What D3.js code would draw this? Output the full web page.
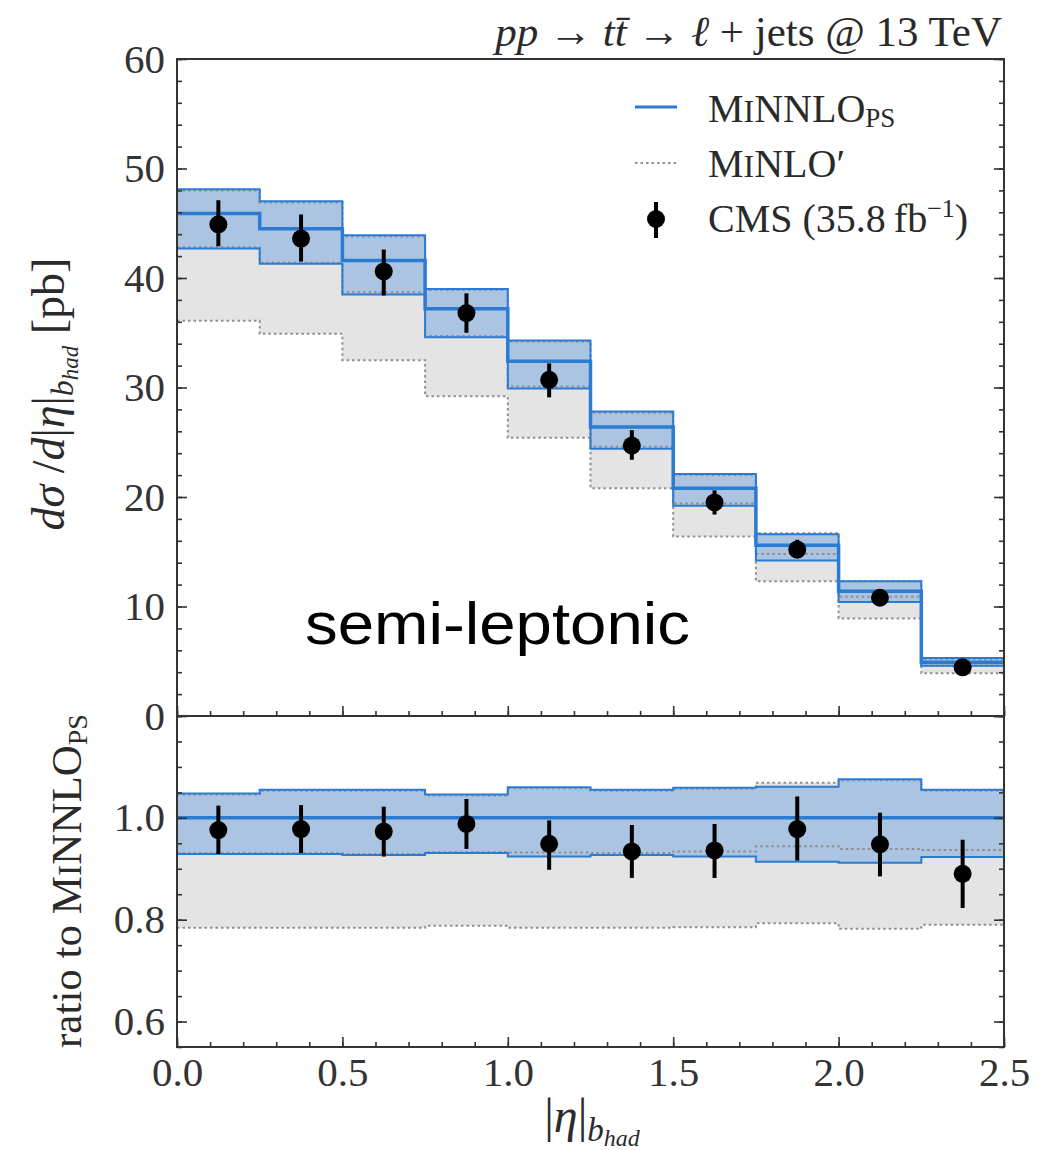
<!DOCTYPE html>
<html>
<head>
<meta charset="utf-8">
<script src="https://cdn.jsdelivr.net/npm/d3@7"></script>
<style>
  html, body { margin: 0; padding: 0; background: #fff; }
  svg { display: block; }
  text { font-family: "Liberation Serif", "DejaVu Serif", serif; fill: #2a2a2a; }
</style>
</head>
<body>
<svg id="chart" width="1048" height="1150"></svg>
<script>
// |eta| of the hadronic b-jet: bin edges
const binEdges = [0, 0.25, 0.5, 0.75, 1.0, 1.25, 1.5, 1.75, 2.0, 2.25, 2.5];

// MiNNLO_PS prediction [pb] with scale band
const minnloCentral = [45.9, 44.5, 41.6, 37.2, 32.4, 26.4, 20.8, 15.6, 11.4, 4.9];
const minnloUpper   = [48.1, 47.0, 43.9, 39.0, 34.3, 27.8, 22.1, 16.6, 12.3, 5.3];
const minnloLower   = [42.7, 41.3, 38.5, 34.6, 29.9, 24.4, 19.2, 14.2, 10.4, 4.6];

// MiNLO' prediction [pb] with scale band
const minloCentral = [42.8, 41.4, 38.7, 34.7, 30.1, 24.6, 19.4, 14.8, 10.9, 4.6];
const minloUpper   = [48.0, 46.9, 43.8, 38.9, 34.2, 27.7, 22.0, 16.7, 12.3, 5.2];
const minloLower   = [36.1, 34.9, 32.5, 29.2, 25.4, 20.8, 16.4, 12.3, 8.9, 3.9];

// CMS data [pb] with error bars
const cmsValue = [44.9, 43.6, 40.6, 36.8, 30.7, 24.7, 19.5, 15.2, 10.8, 4.45];
const cmsHigh  = [47.1, 45.8, 42.6, 38.6, 32.2, 26.1, 20.6, 16.1, 11.4, 4.8];
const cmsLow   = [42.9, 41.5, 38.4, 35.0, 29.1, 23.4, 18.4, 14.4, 10.3, 4.1];

// Ratios to MiNNLO_PS
const ratioMinnloUpper = [1.048, 1.055, 1.055, 1.046, 1.060, 1.055, 1.059, 1.061, 1.076, 1.055];
const ratioMinnloLower = [0.929, 0.929, 0.927, 0.931, 0.924, 0.927, 0.924, 0.914, 0.912, 0.923];
const ratioMinloUpper  = [1.046, 1.053, 1.053, 1.044, 1.058, 1.053, 1.057, 1.069, 1.074, 1.053];
const ratioMinloCentral= [0.931, 0.931, 0.929, 0.933, 0.932, 0.931, 0.934, 0.944, 0.939, 0.937];
const ratioMinloLower  = [0.784, 0.784, 0.784, 0.788, 0.784, 0.784, 0.785, 0.793, 0.782, 0.790];
const ratioCmsValue = [0.976, 0.978, 0.973, 0.988, 0.949, 0.934, 0.936, 0.978, 0.948, 0.890];
const ratioCmsHigh  = [1.024, 1.025, 1.022, 1.037, 0.995, 0.986, 0.988, 1.042, 1.010, 0.957];
const ratioCmsLow   = [0.929, 0.931, 0.924, 0.939, 0.898, 0.882, 0.882, 0.916, 0.885, 0.823];

// Tick values
const xMajorTicks = [0, 0.5, 1.0, 1.5, 2.0, 2.5];
const yTopMajorTicks = [0, 10, 20, 30, 40, 50, 60];
const yBotMajorTicks = [0.6, 0.8, 1.0];

const blueLine = "#2b7bd2";
const blueFill = "#aac4e1";
const grayFill = "#e4e4e4";
const grayDot  = "#8f8f8f";
const frameCol = "#333";

const svg = d3.select("#chart");

const x = d3.scaleLinear().domain([0, 2.5]).range([177, 1004]);
const yTop = d3.scaleLinear().domain([0, 60]).range([716, 59]);
const yBot = d3.scaleLinear().domain([0.55, 1.2]).range([1047, 716]);

function stepData(vals) {
  return binEdges.map((e, i) => ({ x: e, v: vals[Math.min(i, vals.length - 1)] }));
}
function bandData(lo, hi) {
  return binEdges.map((e, i) => ({ x: e, lo: lo[Math.min(i, lo.length - 1)], hi: hi[Math.min(i, hi.length - 1)] }));
}
const binCenters = binEdges.slice(0, -1).map((e, i) => (e + binEdges[i + 1]) / 2);

function drawPanel(g, y, d) {
  const area = d3.area().curve(d3.curveStepAfter)
    .x(p => x(p.x)).y0(p => y(p.lo)).y1(p => y(p.hi));
  const line = d3.line().curve(d3.curveStepAfter)
    .x(p => x(p.x)).y(p => y(p.v));

  // MiNLO' band
  g.append("path").datum(bandData(d.minloLo, d.minloHi))
    .attr("d", area).attr("fill", grayFill);
  // MiNNLO_PS band
  g.append("path").datum(bandData(d.minnloLo, d.minnloHi))
    .attr("d", area).attr("fill", blueFill);

  // MiNLO' dotted lines
  [d.minloLo, d.minloC, d.minloHi].forEach(vals => {
    g.append("path").datum(stepData(vals)).attr("d", line)
      .attr("fill", "none").attr("stroke", grayDot)
      .attr("stroke-width", 2).attr("stroke-dasharray", "2.5,3");
  });
  // MiNNLO_PS band edges and central value
  [d.minnloLo, d.minnloHi].forEach(vals => {
    g.append("path").datum(stepData(vals)).attr("d", line)
      .attr("fill", "none").attr("stroke", blueLine).attr("stroke-width", 2);
  });
  g.append("path").datum(stepData(d.minnloC)).attr("d", line)
    .attr("fill", "none").attr("stroke", blueLine).attr("stroke-width", 3.5);

  // CMS points
  const pts = g.append("g");
  pts.selectAll("line").data(binCenters).join("line")
    .attr("x1", c => x(c)).attr("x2", c => x(c))
    .attr("y1", (c, i) => y(d.cmsLo[i])).attr("y2", (c, i) => y(d.cmsHi[i]))
    .attr("stroke", "#000").attr("stroke-width", 4);
  pts.selectAll("circle").data(binCenters).join("circle")
    .attr("cx", c => x(c)).attr("cy", (c, i) => y(d.cmsV[i]))
    .attr("r", 9).attr("fill", "#000");
}

// clip paths for both panels
const defs = svg.append("defs");
defs.append("clipPath").attr("id", "clipTop").append("rect")
  .attr("x", 177).attr("y", 59).attr("width", 827).attr("height", 657);
defs.append("clipPath").attr("id", "clipBot").append("rect")
  .attr("x", 177).attr("y", 716).attr("width", 827).attr("height", 331);

drawPanel(svg.append("g").attr("clip-path", "url(#clipTop)"), yTop, {
  minloLo: minloLower, minloC: minloCentral, minloHi: minloUpper,
  minnloLo: minnloLower, minnloC: minnloCentral, minnloHi: minnloUpper,
  cmsV: cmsValue, cmsLo: cmsLow, cmsHi: cmsHigh
});
drawPanel(svg.append("g").attr("clip-path", "url(#clipBot)"), yBot, {
  minloLo: ratioMinloLower, minloC: ratioMinloCentral, minloHi: ratioMinloUpper,
  minnloLo: ratioMinnloLower, minnloC: binEdges.slice(0, -1).map(() => 1.0), minnloHi: ratioMinnloUpper,
  cmsV: ratioCmsValue, cmsLo: ratioCmsLow, cmsHi: ratioCmsHigh
});

// ---- axes ----
function styleAxis(g, fontSize) {
  g.select(".domain").remove();
  g.selectAll(".tick line").attr("stroke", frameCol).attr("stroke-width", 1.6);
  g.selectAll(".tick text")
    .attr("font-family", "'Liberation Serif', serif")
    .attr("font-size", fontSize).style("fill", "#333");
}
const minorX = d3.range(0, 2.5001, 0.1).map(v => +v.toFixed(2));
const fmt1 = d3.format(".1f");

// top panel: x ticks on bottom edge (no labels)
svg.append("g").attr("transform", "translate(0,716)")
  .call(d3.axisTop(x).tickValues(minorX).tickSize(5).tickFormat(""))
  .call(g => styleAxis(g, 0));
svg.append("g").attr("transform", "translate(0,716)")
  .call(d3.axisTop(x).tickValues(xMajorTicks).tickSize(10).tickFormat(""))
  .call(g => styleAxis(g, 0));

// top panel y ticks (left labelled, right bare)
const minorYTop = d3.range(0, 60.001, 2);
svg.append("g").attr("transform", "translate(177,0)")
  .call(d3.axisLeft(yTop).tickValues(minorYTop).tickSize(-5).tickFormat(""))
  .call(g => styleAxis(g, 0));
svg.append("g").attr("transform", "translate(177,0)")
  .call(d3.axisLeft(yTop).tickValues(yTopMajorTicks).tickSize(-10).tickPadding(12).tickFormat(d3.format("d")))
  .call(g => styleAxis(g, 41));
svg.append("g").attr("transform", "translate(1004,0)")
  .call(d3.axisRight(yTop).tickValues(minorYTop).tickSize(-5).tickFormat(""))
  .call(g => styleAxis(g, 0));
svg.append("g").attr("transform", "translate(1004,0)")
  .call(d3.axisRight(yTop).tickValues(yTopMajorTicks).tickSize(-10).tickFormat(""))
  .call(g => styleAxis(g, 0));

// bottom panel x ticks (labelled)
svg.append("g").attr("transform", "translate(0,1047)")
  .call(d3.axisBottom(x).tickValues(minorX).tickSize(-5).tickFormat(""))
  .call(g => styleAxis(g, 0));
svg.append("g").attr("transform", "translate(0,1047)")
  .call(d3.axisBottom(x).tickValues(xMajorTicks).tickSize(-10).tickPadding(10).tickFormat(fmt1))
  .call(g => styleAxis(g, 41));

// bottom panel y ticks
const minorYBot = d3.range(0.55, 1.2001, 0.05).map(v => +v.toFixed(2));
const majorYBotAll = [0.6, 0.8, 1.0, 1.2];
svg.append("g").attr("transform", "translate(177,0)")
  .call(d3.axisLeft(yBot).tickValues(minorYBot).tickSize(-5).tickFormat(""))
  .call(g => styleAxis(g, 0));
svg.append("g").attr("transform", "translate(177,0)")
  .call(d3.axisLeft(yBot).tickValues(yBotMajorTicks).tickSize(-10).tickPadding(12).tickFormat(fmt1))
  .call(g => styleAxis(g, 41));
svg.append("g").attr("transform", "translate(1004,0)")
  .call(d3.axisRight(yBot).tickValues(minorYBot).tickSize(-5).tickFormat(""))
  .call(g => styleAxis(g, 0));
svg.append("g").attr("transform", "translate(1004,0)")
  .call(d3.axisRight(yBot).tickValues(majorYBotAll).tickSize(-10).tickFormat(""))
  .call(g => styleAxis(g, 0));

// frames
svg.append("rect").attr("x", 177).attr("y", 59).attr("width", 827).attr("height", 657)
  .attr("fill", "none").attr("stroke", frameCol).attr("stroke-width", 2);
svg.append("rect").attr("x", 177).attr("y", 716).attr("width", 827).attr("height", 331)
  .attr("fill", "none").attr("stroke", frameCol).attr("stroke-width", 2);

// ---- title ----
const title = svg.append("text").attr("x", 1002).attr("y", 46)
  .attr("text-anchor", "end").attr("font-size", 43);
title.append("tspan").attr("font-style", "italic").text("pp");
title.append("tspan").text(" \u2192 ");
title.append("tspan").attr("font-style", "italic").text("tt\u0304");
title.append("tspan").text(" \u2192 ");
title.append("tspan").attr("font-style", "italic").text("\u2113");
title.append("tspan").text(" + jets @ 13 TeV");

// ---- legend ----
const leg = svg.append("g");
leg.append("line").attr("x1", 635).attr("x2", 677).attr("y1", 107).attr("y2", 107)
  .attr("stroke", blueLine).attr("stroke-width", 3);
const t1 = leg.append("text").attr("x", 708).attr("y", 122).attr("font-size", 40);
t1.append("tspan").text("M");
t1.append("tspan").attr("font-size", 32).text("I");
t1.append("tspan").text("NNLO");
t1.append("tspan").attr("font-size", 27).attr("dy", 5).text("PS");

leg.append("line").attr("x1", 635).attr("x2", 677).attr("y1", 163).attr("y2", 163)
  .attr("stroke", grayDot).attr("stroke-width", 2).attr("stroke-dasharray", "2.5,3");
const t2 = leg.append("text").attr("x", 708).attr("y", 177).attr("font-size", 40);
t2.append("tspan").text("M");
t2.append("tspan").attr("font-size", 32).text("I");
t2.append("tspan").text("NLO\u2032");

leg.append("line").attr("x1", 656).attr("x2", 656).attr("y1", 202).attr("y2", 238)
  .attr("stroke", "#000").attr("stroke-width", 4);
leg.append("circle").attr("cx", 656).attr("cy", 219).attr("r", 9).attr("fill", "#000");
const t3 = leg.append("text").attr("x", 708).attr("y", 232).attr("font-size", 40);
t3.append("tspan").text("CMS (35.8\u2009fb");
t3.append("tspan").attr("font-size", 26).attr("dy", -15).text("\u22121");
t3.append("tspan").attr("dy", 15).text(")");

// ---- channel label ----
svg.append("text").attr("x", 305).attr("y", 644)
  .style("font-family", "'Liberation Sans', Arial, sans-serif")
  .style("fill", "#000")
  .attr("font-size", 60)
  .attr("textLength", 385).attr("lengthAdjust", "spacingAndGlyphs")
  .text("semi-leptonic");

// ---- axis titles ----
const yl = svg.append("text").attr("transform", "translate(64,394) rotate(-90)")
  .attr("text-anchor", "middle").attr("font-size", 46);
yl.append("tspan").attr("font-style", "italic").text("d\u03C3");
yl.append("tspan").text(" /");
yl.append("tspan").attr("font-style", "italic").text("d");
yl.append("tspan").text("|");
yl.append("tspan").attr("font-style", "italic").text("\u03B7");
yl.append("tspan").text("|");
yl.append("tspan").attr("font-style", "italic").attr("font-size", 32).attr("dy", 9).text("b");
yl.append("tspan").attr("font-style", "italic").attr("font-size", 23).attr("dy", 5).text("had");
yl.append("tspan").attr("dy", -14).text(" [pb]");

const rl = svg.append("text").attr("transform", "translate(81,881) rotate(-90)")
  .attr("text-anchor", "middle").attr("font-size", 43);
rl.append("tspan").text("ratio to M");
rl.append("tspan").attr("font-size", 34).text("I");
rl.append("tspan").text("NNLO");
rl.append("tspan").attr("font-size", 28).attr("dy", 6).text("PS");

const xl = svg.append("text").attr("x", 592).attr("y", 1132)
  .attr("text-anchor", "middle").attr("font-size", 48);
xl.append("tspan").text("|");
xl.append("tspan").attr("font-style", "italic").text("\u03B7");
xl.append("tspan").text("|");
xl.append("tspan").attr("font-style", "italic").attr("font-size", 33).attr("dy", 9).text("b");
xl.append("tspan").attr("font-style", "italic").attr("font-size", 24).attr("dy", 5).text("had");
</script>
</body>
</html>
